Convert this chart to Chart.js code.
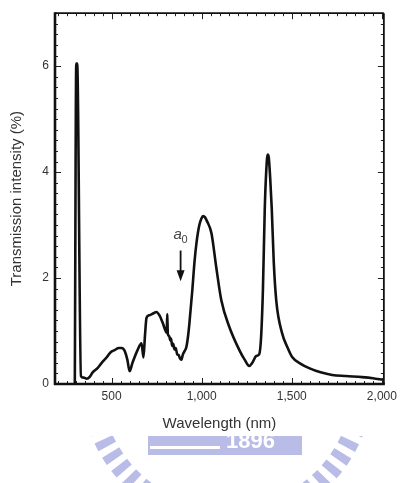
<!DOCTYPE html>
<html>
<head>
<meta charset="utf-8">
<script src="https://cdn.jsdelivr.net/npm/chart.js@4"></script>
<style>
  html, body { margin: 0; padding: 0; background: #fff; }
  #wrap { width: 402px; height: 483px; }
</style>
</head>
<body>
<div id="wrap"><canvas id="spectrum" width="402" height="483"></canvas></div>
<script>
// transmission spectrum
const wavelengths = [
  296, 304, 309, 330, 345, 362, 380, 395, 422, 445, 472, 495, 517, 540, 555, 572, 588, 600,
  616, 644, 666, 677, 685, 694, 710, 730, 749, 765, 782, 800, 806, 809, 812, 820, 826, 830,
  836, 842, 849, 856, 864, 872, 880, 888, 895, 905, 915, 925, 932, 948, 960, 971, 987, 998,
  1008, 1018, 1030, 1054, 1081, 1109, 1153, 1209, 1240, 1264, 1281, 1303, 1319, 1330, 1340, 1350,
  1358, 1366, 1372, 1380, 1389, 1400, 1414, 1447, 1475, 1502, 1550, 1596, 1660, 1724, 1800,
  1890, 1950, 2005
];
const intensity = [
  0.02, 6.05, 6.05, 0.15, 0.12, 0.10, 0.14, 0.22, 0.30, 0.40, 0.50, 0.60, 0.64, 0.68, 0.68, 0.63, 0.45, 0.24,
  0.40, 0.64, 0.77, 0.50, 0.90, 1.25, 1.30, 1.33, 1.36, 1.30, 1.17, 1.00, 0.97, 1.32, 0.95, 0.90, 0.82, 0.86,
  0.72, 0.76, 0.65, 0.68, 0.56, 0.55, 0.48, 0.46, 0.55, 0.62, 0.70, 0.92, 1.15, 1.77, 2.30, 2.66, 3.00, 3.12,
  3.17, 3.15, 3.07, 2.85, 2.20, 1.58, 1.08, 0.64, 0.45, 0.34, 0.40, 0.53, 0.56, 0.90, 1.80, 3.30,
  4.00, 4.33, 4.28, 3.90, 3.30, 2.30, 1.57, 0.95, 0.70, 0.51, 0.38, 0.30, 0.22, 0.17, 0.15,
  0.13, 0.11, 0.08
];
const xTicks = [500, 1000, 1500, 2000];
const yTicks = [0, 2, 4, 6];

// arrow marker for a0
const markerWl = 883;
const markerTop = 2.52;
const markerTip = 1.94;

const textColor = "#333333";
const fontFamily = "'Liberation Sans', Arial, Helvetica, sans-serif";

function line(ctx, x1, y1, x2, y2) {
  ctx.beginPath();
  ctx.moveTo(x1, y1);
  ctx.lineTo(x2, y2);
  ctx.stroke();
}

// box round the plot with inward ticks on all four sides
const frameTicks = {
  id: "frameTicks",
  afterDatasetsDraw(chart) {
    const { ctx, chartArea: a, scales: { x, y } } = chart;
    ctx.save();
    ctx.strokeStyle = "#222";
    ctx.lineWidth = 1;
    for (let v = 200; v <= 2000; v += 50) {
      const px = Math.round(x.getPixelForValue(v)) + 0.5;
      const len = v % 500 === 0 ? 6 : 3;
      line(ctx, px, a.bottom, px, a.bottom - len);
      line(ctx, px, a.top, px, a.top + len);
    }
    for (let i = 1; i < 35; i++) {
      const py = Math.round(y.getPixelForValue(i * 0.2)) + 0.5;
      const len = i % 10 === 0 ? 6 : 3;
      line(ctx, a.left, py, a.left + len, py);
      line(ctx, a.right, py, a.right - len, py);
    }
    ctx.strokeStyle = "#111";
    ctx.lineWidth = 1.8;
    line(ctx, a.left, a.top, a.right, a.top);
    line(ctx, a.right, a.top, a.right, a.bottom);
    ctx.lineWidth = 2.6;
    line(ctx, a.left, a.top - 1, a.left, a.bottom + 1);
    line(ctx, a.left - 1, a.bottom, a.right + 1, a.bottom);
    ctx.restore();
  }
};

const arrowLabel = {
  id: "arrowLabel",
  afterDatasetsDraw(chart) {
    const { ctx, scales: { x, y } } = chart;
    const px = x.getPixelForValue(markerWl);
    const top = y.getPixelForValue(markerTop);
    const tip = y.getPixelForValue(markerTip);
    ctx.save();
    ctx.strokeStyle = "#111";
    ctx.fillStyle = "#111";
    ctx.lineWidth = 1.8;
    line(ctx, px, top, px, tip - 8);
    ctx.beginPath();
    ctx.moveTo(px - 4, tip - 11);
    ctx.lineTo(px + 4, tip - 11);
    ctx.lineTo(px, tip);
    ctx.closePath();
    ctx.fill();
    ctx.fillStyle = "#444";
    ctx.textBaseline = "alphabetic";
    ctx.font = "italic 15px " + fontFamily;
    ctx.fillText("a", px - 7, top - 12);
    ctx.font = "11px " + fontFamily;
    ctx.fillText("0", px + 1, top - 8);
    ctx.restore();
  }
};

// faint logo watermark under the figure
const watermark = {
  id: "watermark",
  afterDraw(chart) {
    const ctx = chart.ctx;
    const tint = "#b8bce7";
    ctx.save();
    ctx.beginPath();
    ctx.rect(0, 436, 402, 47);
    ctx.clip();
    ctx.strokeStyle = tint;
    ctx.lineWidth = 20;
    ctx.setLineDash([8, 7]);
    ctx.beginPath();
    ctx.arc(227, 382, 136, 0, Math.PI);
    ctx.stroke();
    ctx.setLineDash([]);
    ctx.fillStyle = tint;
    ctx.fillRect(148, 436, 154, 19);
    ctx.fillStyle = "#ffffff";
    ctx.font = "bold 22px " + fontFamily;
    ctx.fillText("1896", 226, 448);
    ctx.fillRect(150, 446, 70, 3);
    ctx.restore();
  }
};

new Chart(document.getElementById("spectrum"), {
  type: "line",
  data: {
    datasets: [{
      data: wavelengths.map((wl, i) => ({ x: wl, y: intensity[i] })),
      borderColor: "#111111",
      borderWidth: 2.6,
      pointRadius: 0,
      cubicInterpolationMode: "monotone",
      fill: false
    }]
  },
  options: {
    responsive: false,
    animation: false,
    devicePixelRatio: 1,
    layout: { padding: { top: 10, right: 17, left: 0, bottom: 0 } },
    plugins: { legend: { display: false }, tooltip: { enabled: false } },
    scales: {
      x: {
        type: "linear",
        min: 186,
        max: 2011,
        grid: { display: false, drawTicks: false },
        border: { display: false },
        afterBuildTicks: s => { s.ticks = xTicks.map(v => ({ value: v })); },
        afterFit: s => { s.height = 99; },
        ticks: {
          color: textColor,
          padding: 5,
          maxRotation: 0,
          autoSkip: false,
          font: { family: fontFamily, size: 12 },
          callback: v => v.toLocaleString("en-US")
        },
        title: {
          display: true,
          text: "Wavelength (nm)",
          color: textColor,
          font: { family: fontFamily, size: 15 },
          padding: { top: 0, bottom: 50 }
        }
      },
      y: {
        min: 0,
        max: 7,
        grid: { display: false, drawTicks: false },
        border: { display: false },
        afterBuildTicks: s => { s.ticks = yTicks.map(v => ({ value: v })); },
        afterFit: s => { s.width = 55; },
        ticks: {
          color: textColor,
          padding: 6,
          font: { family: fontFamily, size: 12 }
        },
        title: {
          display: true,
          text: "Transmission intensity (%)",
          color: textColor,
          font: { family: fontFamily, size: 15 },
          padding: { top: 8, bottom: 0 }
        }
      }
    }
  },
  plugins: [frameTicks, arrowLabel, watermark]
});
</script>
</body>
</html>
